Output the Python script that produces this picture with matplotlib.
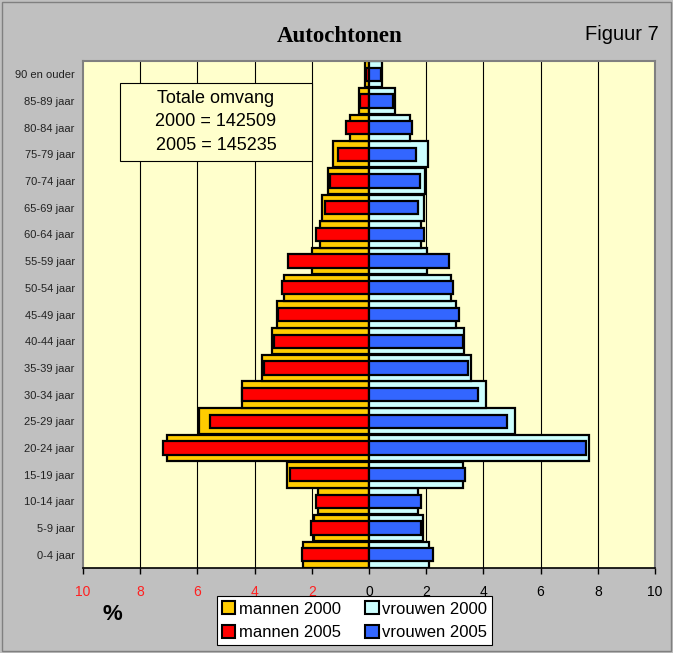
import matplotlib
matplotlib.use("Agg")
import matplotlib.pyplot as plt
from matplotlib.patches import Rectangle, Patch

plt.rcParams['font.family'] = ['Liberation Sans', 'DejaVu Sans']

# --- leeftijdsklassen (van jong naar oud) ---
leeftijd = ['0-4 jaar', '5-9 jaar', '10-14 jaar', '15-19 jaar', '20-24 jaar',
            '25-29 jaar', '30-34 jaar', '35-39 jaar', '40-44 jaar', '45-49 jaar',
            '50-54 jaar', '55-59 jaar', '60-64 jaar', '65-69 jaar', '70-74 jaar',
            '75-79 jaar', '80-84 jaar', '85-89 jaar', '90 en ouder']

# --- percentages ---
mannen_2000 = [2.31, 1.93, 1.78, 2.87, 7.08, 5.95, 4.44, 3.73, 3.38, 3.20,
               2.98, 2.01, 1.72, 1.66, 1.45, 1.25, 0.67, 0.35, 0.15]
mannen_2005 = [2.36, 2.04, 1.86, 2.75, 7.20, 5.57, 4.44, 3.68, 3.33, 3.17,
               3.03, 2.82, 1.86, 1.55, 1.37, 1.10, 0.79, 0.30, 0.10]
vrouwen_2000 = [2.10, 1.89, 1.71, 3.29, 7.69, 5.10, 4.08, 3.58, 3.32, 3.03,
                2.88, 2.03, 1.83, 1.92, 1.95, 2.06, 1.42, 0.92, 0.45]
vrouwen_2005 = [2.24, 1.82, 1.81, 3.37, 7.60, 4.84, 3.82, 3.46, 3.27, 3.15,
                2.92, 2.79, 1.91, 1.71, 1.77, 1.63, 1.52, 0.84, 0.43]

x_ticks = [-10, -8, -6, -4, -2, 0, 2, 4, 6, 8, 10]
x_labels = ['10', '8', '6', '4', '2', '0', '2', '4', '6', '8', '10']

c_m2000 = '#FFCC00'
c_m2005 = '#FF0000'
c_v2000 = '#CCFFFF'
c_v2005 = '#3366FF'

fig = plt.figure(figsize=(6.73, 6.53), dpi=100)
fig.patch.set_facecolor('#C0C0C0')
fig.patches.append(Rectangle((0.003, 0.003), 0.994, 0.994, transform=fig.transFigure,
                             fill=False, edgecolor='#808080', linewidth=1))

ax = fig.add_axes([83/673, 1 - 568/653, (655 - 83)/673, (568 - 61)/653])
ax.set_facecolor('#FFFFCC')

y = list(range(len(leeftijd)))
neg = lambda vals: [-v for v in vals]

for xv in [-8, -6, -4, -2, 2, 4, 6, 8]:
    ax.axvline(xv, color='black', linewidth=0.8, zorder=0)

ax.barh(y, neg(mannen_2000), height=0.98, color=c_m2000, edgecolor='black', linewidth=1.6, zorder=2)
ax.barh(y, vrouwen_2000, height=0.98, color=c_v2000, edgecolor='black', linewidth=1.6, zorder=2)
ax.barh(y, neg(mannen_2005), height=0.5, color=c_m2005, edgecolor='black', linewidth=1.6, zorder=3)
ax.barh(y, vrouwen_2005, height=0.5, color=c_v2005, edgecolor='black', linewidth=1.6, zorder=3)

ax.set_xlim(-10, 10)
ax.set_ylim(-0.5, len(leeftijd) - 0.5)
ax.set_yticks(y)
ax.set_yticklabels(leeftijd, fontsize=8, color='#222222')
ax.tick_params(axis='y', length=0, pad=6)
ax.set_xticks(x_ticks)
ax.set_xticklabels(x_labels, fontsize=10)
ax.tick_params(axis='x', length=4, width=1, pad=8)
for lab, xv in zip(ax.get_xticklabels(), x_ticks):
    lab.set_color('#FF2020' if xv < 0 else 'black')

for side in ['top', 'right', 'left']:
    ax.spines[side].set_color('#808080')
    ax.spines[side].set_linewidth(1.5)
ax.spines['bottom'].set_color('black')
ax.spines['bottom'].set_linewidth(1.2)

# titel
fig.text(340/673, 1 - 36/653, 'Autochtonen', fontsize=16.5, fontweight='bold',
         family='Liberation Serif', ha='center', va='center')
fig.text(622/673, 1 - 35/653, 'Figuur 7', fontsize=14.5, ha='center', va='center')

# tekstvak totale omvang
fig.patches.append(Rectangle((120/673, 1 - 161/653), 192/673, 78/653, transform=fig.transFigure,
                             facecolor='#FFFFCC', edgecolor='black', linewidth=0.8, zorder=5))
fig.text(216/673, 1 - 122/653, 'Totale omvang\n2000 = 142509\n2005 = 145235',
         fontsize=13, ha='center', va='center', linespacing=1.5, zorder=6)

fig.text(112/673, 1 - 615/653, '%', fontsize=16, fontweight='bold', ha='center', va='center')

handles = [Patch(facecolor=c_m2000, edgecolor='black', linewidth=1.5, label='mannen 2000'),
           Patch(facecolor=c_m2005, edgecolor='black', linewidth=1.5, label='mannen 2005'),
           Patch(facecolor=c_v2000, edgecolor='black', linewidth=1.5, label='vrouwen 2000'),
           Patch(facecolor=c_v2005, edgecolor='black', linewidth=1.5, label='vrouwen 2005')]
leg = fig.legend(handles=handles, ncol=2, loc='lower left',
                 bbox_to_anchor=(217/673, 8/653, 275/673, 47/653), mode='expand',
                 fontsize=12, frameon=True, fancybox=False, edgecolor='black',
                 framealpha=1, handlelength=0.8, handleheight=0.8, handletextpad=0.2,
                 columnspacing=1.0, borderpad=0.3, labelspacing=0.5, borderaxespad=0)
leg.get_frame().set_linewidth(0.8)

fig.savefig('out.png', dpi=100, facecolor=fig.get_facecolor())
